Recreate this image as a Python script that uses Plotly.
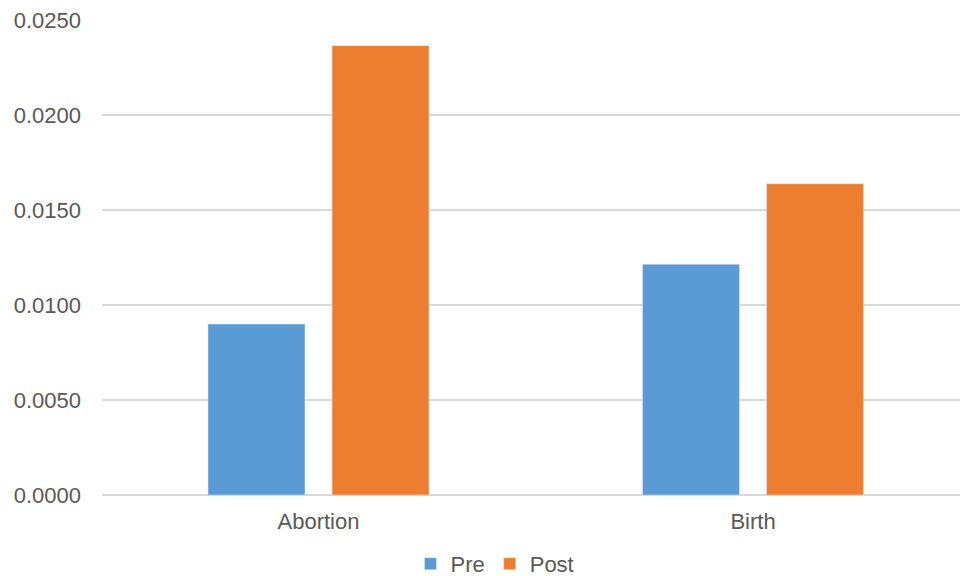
import plotly.graph_objects as go

categories = ["Abortion", "Birth"]
pre_values = [0.0090, 0.01215]
post_values = [0.02365, 0.01638]
y_ticks = [0.0, 0.005, 0.010, 0.015, 0.020, 0.025]
y_tick_labels = ["0.0000", "0.0050", "0.0100", "0.0150", "0.0200", "0.0250"]

FONT = "Liberation Sans, Arial, sans-serif"
GREY = "#595959"

fig = go.Figure()
fig.add_trace(go.Bar(name="Pre", x=categories, y=pre_values, marker_color="#5B9BD5"))
fig.add_trace(go.Bar(name="Post", x=categories, y=post_values, marker_color="#ED7D31"))

fig.update_layout(
    width=960, height=576,
    margin=dict(l=102, r=0, t=20, b=81, autoexpand=False),
    paper_bgcolor="white", plot_bgcolor="white",
    barmode="group", bargap=0.429, bargroupgap=0.218,
    font=dict(family=FONT, size=22, color=GREY),
    showlegend=True,
    legend=dict(orientation="h", x=0.458, xanchor="center", y=-0.145, yanchor="middle",
                font=dict(size=22, color=GREY), itemwidth=30),
    xaxis=dict(range=[-0.4983, 1.4764], showgrid=False, showline=False, zeroline=False,
               ticks="", tickfont=dict(size=22, color=GREY), ticklabelstandoff=11),
    yaxis=dict(range=[0, 0.025], tickvals=y_ticks, ticktext=y_tick_labels,
               showgrid=True, gridcolor="#D9D9D9", gridwidth=1.5,
               zeroline=True, zerolinecolor="#D9D9D9", zerolinewidth=1.5,
               showline=False, ticks="", ticklabelstandoff=20,
               tickfont=dict(size=22, color=GREY)),
)

fig.write_html("out.html")
